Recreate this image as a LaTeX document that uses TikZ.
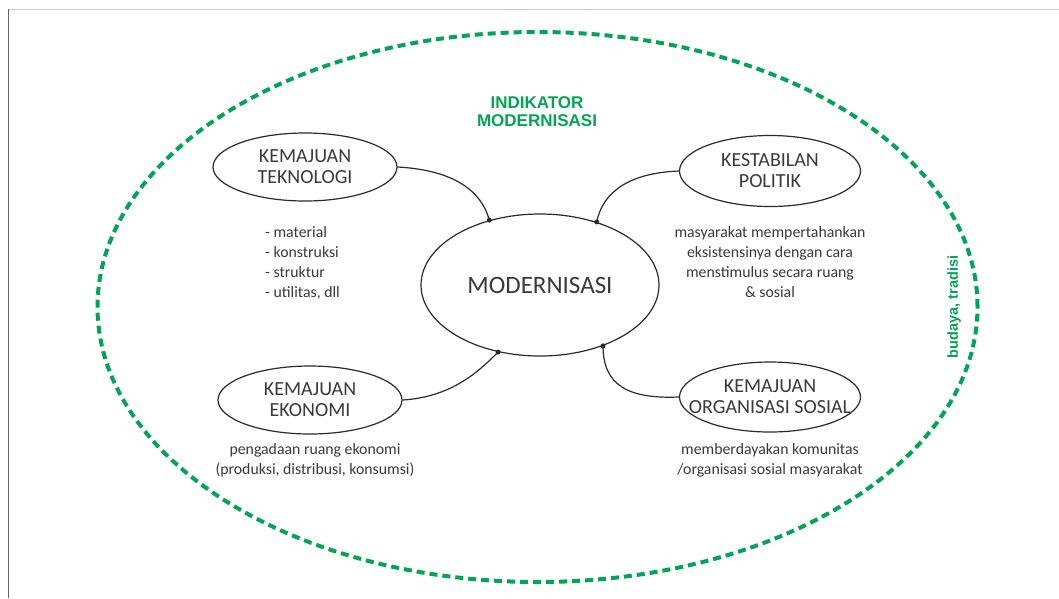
\documentclass[tikz,border=0pt]{standalone}
\usepackage{fontspec}
\setmainfont{Carlito}
\newfontfamily\headfont{Liberation Sans}
\usetikzlibrary{shapes.geometric}
\definecolor{grn}{HTML}{00A651}
\definecolor{txt}{HTML}{3A3A3A}
\definecolor{linec}{HTML}{2B2B2B}
\tikzset{
  bubble/.style={ellipse, draw=linec, line width=1.2pt, inner sep=0pt, minimum width=184pt, minimum height=68pt},
  lbl/.style={text=txt, align=center, inner sep=0pt, font=\fontsize{20}{21}\selectfont},
  note/.style={text=txt, align=center, inner sep=0pt, font=\fontsize{15.8}{19.8}\selectfont},
  conn/.style={draw=linec, line width=1.2pt},
  dotc/.style={circle, fill=linec, inner sep=0pt, minimum size=5pt},
  head/.style={text=grn, align=center, inner sep=0pt, font=\headfont\bfseries\fontsize{17}{18.5}\selectfont},
  outer/.style={draw=grn, line width=4pt, dash pattern=on 8pt off 5pt}
}
\begin{document}
\begin{tikzpicture}[x=1pt,y=-1pt]
\useasboundingbox[fill=white] (0,0) rectangle (1059,598);
% frame lines
\draw[color=black!20, line width=1pt] (8,9) -- (1059,9);
\draw[color=black!60, line width=1pt] (8,9) -- (8,598);
% outer dashed ellipse
\draw[outer] (537.5,307) ellipse [x radius=440pt, y radius=275pt];
% heading
\node[head] (ind) at (537,111.5) {INDIKATOR\\MODERNISASI};
\node[head, rotate=90, font=\headfont\bfseries\fontsize{14.5}{16}\selectfont] (bud) at (954,307) {budaya, tradisi};
% central
\node[ellipse, draw=linec, line width=1.2pt, inner sep=0pt, minimum width=238pt, minimum height=142pt] (mod) at (540,285) {};
\node[text=txt, inner sep=0pt, font=\fontsize{25}{27}\selectfont] (modl) at (mod) {MODERNISASI};
% bubbles
\node[bubble] (tek) at (305,167) {};
\node[lbl] (tekl) at (tek) {KEMAJUAN\\TEKNOLOGI};
\node[bubble, minimum width=181pt, minimum height=71pt] (pol) at (770,171) {};
\node[lbl] (poll) at (pol) {KESTABILAN\\POLITIK};
\node[bubble] (eko) at (310,400) {};
\node[lbl] (ekol) at (eko) {KEMAJUAN\\EKONOMI};
\node[bubble, minimum width=181pt, minimum height=70pt] (org) at (770,397) {};
\node[lbl] (orgl) at (org) {KEMAJUAN\\ORGANISASI SOSIAL};
% dots
\coordinate (d1) at (mod.128);
\coordinate (d2) at (mod.48);
\coordinate (d3) at (mod.238.5);
\coordinate (d4) at (mod.-44);
% connectors
\draw[conn] (tek.east) .. controls +(55,3) and +(-8,-30) .. (d1);
\draw[conn] (pol.west) .. controls +(-50,2) and +(6,-30) .. (d2);
\draw[conn] (eko.east) .. controls +(50,-3) and +(-18,18) .. (d3);
\draw[conn] (d4) .. controls +(0,40) and +(-50,2) .. (org.west);
\node[dotc] (p1) at (d1) {};
\node[dotc] (p2) at (d2) {};
\node[dotc] (p3) at (d3) {};
\node[dotc] (p4) at (d4) {};
% notes
\node[note, align=left, anchor=west] (tekn) at (265,263) {- material\\- konstruksi\\- struktur\\- utilitas, dll};
\node[note] (poln) at (770,262) {masyarakat mempertahankan\\eksistensinya dengan cara\\menstimulus secara ruang\\\& sosial};
\node[note] (ekon) at (315,460) {pengadaan ruang ekonomi\\(produksi, distribusi, konsumsi)};
\node[note] (orgn) at (770,460) {memberdayakan komunitas\\/organisasi sosial masyarakat};
\end{tikzpicture}
\end{document}
